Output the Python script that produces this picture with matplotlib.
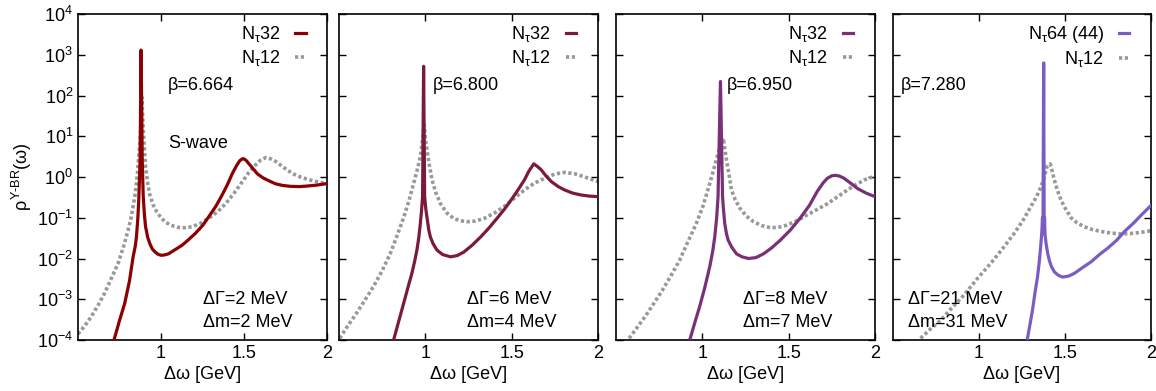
import numpy as np
import matplotlib
matplotlib.use("Agg")
import matplotlib.pyplot as plt
from matplotlib.ticker import LogLocator, FixedLocator, NullFormatter

plt.rcParams['font.family'] = ['Liberation Sans', 'DejaVu Sans']
plt.rcParams['mathtext.fontset'] = 'custom'
plt.rcParams['mathtext.rm'] = 'Liberation Sans'
plt.rcParams['mathtext.it'] = 'Liberation Sans'
plt.rcParams['mathtext.cal'] = 'Liberation Sans'

# ---- data ----
# panel 1, beta=6.664
p1_x32 = [0.717, 0.75, 0.781, 0.81, 0.832, 0.845, 0.852, 0.86, 0.866, 0.874, 0.880, 0.887, 0.893, 0.90,
          0.907, 0.92, 0.933, 0.948, 0.964, 0.982, 1.0, 1.02, 1.045, 1.08, 1.126, 1.166, 1.206, 1.25,
          1.287, 1.33, 1.368, 1.40, 1.429, 1.455, 1.474, 1.49, 1.50, 1.515, 1.53, 1.555, 1.58, 1.615,
          1.652, 1.69, 1.733, 1.78, 1.834, 1.88, 1.935, 2.0]
p1_y32 = [1e-4, 3e-4, 7.8e-4, 2.8e-3, 0.011, 0.02, 0.034, 0.09, 0.27, 2.6, 1300, 2.6, 0.33, 0.12,
          0.06, 0.033, 0.023, 0.017, 0.0145, 0.0127, 0.012, 0.0122, 0.013, 0.016, 0.021, 0.029, 0.041, 0.064,
          0.105, 0.19, 0.36, 0.65, 1.2, 1.9, 2.5, 2.8, 2.8, 2.5, 2.1, 1.6, 1.2, 0.95,
          0.8, 0.68, 0.62, 0.59, 0.58, 0.6, 0.63, 0.69]
p1_x12 = [0.5, 0.54, 0.579, 0.62, 0.66, 0.70, 0.741, 0.775, 0.802, 0.82, 0.832, 0.843, 0.852, 0.86,
          0.866, 0.872, 0.877, 0.881, 0.885, 0.889, 0.893, 0.9, 0.907, 0.92, 0.933, 0.952, 0.974, 1.0,
          1.024, 1.06, 1.105, 1.146, 1.186, 1.235, 1.287, 1.34, 1.389, 1.44, 1.49, 1.53, 1.571, 1.60,
          1.632, 1.66, 1.692, 1.74, 1.794, 1.845, 1.895, 1.95, 2.0]
p1_y12 = [1.4e-4, 2.2e-4, 3.7e-4, 7e-4, 1.4e-3, 3.2e-3, 7.5e-3, 0.02, 0.05, 0.1, 0.19, 0.35, 0.69, 1.5,
          3.2, 6.5, 11.7, 35, 91, 35, 14, 5, 1.8, 0.7, 0.36, 0.21, 0.14, 0.1,
          0.08, 0.065, 0.058, 0.057, 0.06, 0.072, 0.096, 0.14, 0.22, 0.4, 0.77, 1.3, 2.0, 2.6,
          3.0, 2.8, 2.4, 1.7, 1.2, 0.98, 0.85, 0.75, 0.68]

# panel 2, beta=6.800
p2_x32 = [0.819, 0.845, 0.874, 0.9, 0.922, 0.938, 0.951, 0.962, 0.971, 0.978, 0.984, 0.990, 0.996,
          1.003, 1.01, 1.02, 1.029, 1.045, 1.068, 1.1, 1.146, 1.185, 1.224, 1.27, 1.321, 1.37, 1.418,
          1.457, 1.496, 1.535, 1.574, 1.60, 1.628, 1.65, 1.671, 1.70, 1.73, 1.77, 1.807, 1.855, 1.905,
          1.95, 2.0]
p2_y32 = [1.1e-4, 2.8e-4, 7.8e-4, 2e-3, 4.3e-3, 8.5e-3, 0.016, 0.032, 0.072, 0.15, 0.33, 520, 0.33,
          0.16, 0.10, 0.05, 0.034, 0.023, 0.016, 0.0125, 0.011, 0.0118, 0.0145, 0.021, 0.034, 0.057, 0.10,
          0.16, 0.27, 0.47, 0.85, 1.4, 2.1, 1.8, 1.5, 1.05, 0.77, 0.58, 0.48, 0.4, 0.36,
          0.34, 0.33]
p2_x12 = [0.504, 0.55, 0.601, 0.65, 0.698, 0.75, 0.796, 0.835, 0.874, 0.905, 0.932, 0.955, 0.971,
          0.982, 0.990, 0.994, 0.998, 1.003, 1.01, 1.02, 1.039, 1.06, 1.088, 1.125, 1.165, 1.2, 1.243,
          1.29, 1.34, 1.4, 1.457, 1.515, 1.574, 1.63, 1.691, 1.75, 1.807, 1.865, 1.924, 1.96, 2.0]
p2_y12 = [1.1e-4, 2.2e-4, 4.5e-4, 9.5e-4, 2.0e-3, 5e-3, 0.013, 0.035, 0.10, 0.26, 0.69, 1.6, 3.2,
          7, 14, 19, 12, 7, 4.6, 2.3, 0.85, 0.42, 0.22, 0.13, 0.096, 0.085, 0.08,
          0.083, 0.096, 0.13, 0.19, 0.3, 0.48, 0.7, 0.93, 1.18, 1.3, 1.2, 1.0, 0.88, 0.77]

# panel 3, beta=6.950
p3_x32 = [0.93, 0.96, 0.984, 1.015, 1.043, 1.06, 1.072, 1.083, 1.091, 1.105, 1.117, 1.123, 1.13,
          1.14, 1.15, 1.17, 1.198, 1.23, 1.267, 1.31, 1.354, 1.40, 1.451, 1.51, 1.568, 1.62, 1.665,
          1.70, 1.724, 1.75, 1.772, 1.795, 1.821, 1.86, 1.899, 1.95, 2.0]
p3_y32 = [1.1e-4, 3e-4, 6.5e-4, 2e-3, 6.3e-3, 0.015, 0.034, 0.1, 0.33, 220, 0.33, 0.15, 0.072,
          0.04, 0.028, 0.019, 0.013, 0.011, 0.01, 0.0105, 0.013, 0.018, 0.028, 0.05, 0.10, 0.2, 0.44,
          0.72, 0.93, 1.07, 1.1, 1.05, 0.93, 0.7, 0.52, 0.4, 0.33]
p3_x12 = [0.576, 0.625, 0.673, 0.72, 0.77, 0.82, 0.868, 0.915, 0.965, 1.005, 1.043, 1.065, 1.086,
          1.10, 1.111, 1.121, 1.13, 1.14, 1.155, 1.169, 1.19, 1.218, 1.255, 1.296, 1.345, 1.393, 1.44,
          1.49, 1.55, 1.607, 1.665, 1.724, 1.78, 1.84, 1.89, 1.938, 2.0]
p3_y12 = [1.1e-4, 2.1e-4, 4e-4, 8e-4, 1.7e-3, 3.9e-3, 9e-3, 0.025, 0.072, 0.2, 0.69, 1.5, 3.2,
          5, 7, 9, 5, 2.6, 1.1, 0.48, 0.28, 0.17, 0.11, 0.08, 0.064, 0.057, 0.058,
          0.066, 0.085, 0.117, 0.16, 0.22, 0.32, 0.48, 0.65, 0.85, 1.05]

# panel 4, beta=7.280
p4_x64 = [1.282, 1.297, 1.311, 1.325, 1.34, 1.35, 1.36, 1.366, 1.369, 1.372, 1.376, 1.379, 1.381,
          1.384, 1.39, 1.40, 1.409, 1.42, 1.438, 1.46, 1.486, 1.52, 1.554, 1.6, 1.652, 1.70, 1.749,
          1.8, 1.846, 1.9, 1.944, 2.0]
p4_y64 = [1.1e-4, 2.5e-4, 5.4e-4, 1.4e-3, 3.5e-3, 8e-3, 0.023, 0.05, 0.1, 0.04, 630, 0.05, 0.1,
          0.04, 0.023, 0.013, 9e-3, 6.5e-3, 4.7e-3, 3.9e-3, 3.5e-3, 3.7e-3, 4.3e-3, 5.9e-3, 8.3e-3, 0.0125, 0.018,
          0.028, 0.046, 0.075, 0.117, 0.2]
p4_x12 = [0.66, 0.72, 0.776, 0.84, 0.912, 0.99, 1.068, 1.14, 1.204, 1.255, 1.302, 1.335, 1.36,
          1.38, 1.395, 1.414, 1.425, 1.438, 1.455, 1.477, 1.505, 1.535, 1.57, 1.613, 1.66, 1.71, 1.77,
          1.827, 1.88, 1.924, 1.96, 2.0]
p4_y12 = [1.1e-4, 1.9e-4, 3e-4, 6e-4, 1.26e-3, 3.2e-3, 7.6e-3, 0.018, 0.041, 0.085, 0.19, 0.33, 0.57,
          1.0, 1.8, 2.1, 1.4, 0.85, 0.48, 0.27, 0.16, 0.10, 0.075, 0.06, 0.051, 0.046, 0.042,
          0.04, 0.041, 0.043, 0.045, 0.048]

colors = ["#8b0000", "#7a1a3c", "#7a3079", "#7b5cc4"]
labels = [r"N$_{\mathrm{τ}}$32", r"N$_{\mathrm{τ}}$32", r"N$_{\mathrm{τ}}$32", r"N$_{\mathrm{τ}}$64 (44)"]
betas = ["β=6.664", "β=6.800", "β=6.950", "β=7.280"]
dgam = ["ΔΓ=2 MeV", "ΔΓ=6 MeV", "ΔΓ=8 MeV", "ΔΓ=21 MeV"]
dm = ["Δm=2 MeV", "Δm=4 MeV", "Δm=7 MeV", "Δm=31 MeV"]

main = [(p1_x32, p1_y32), (p2_x32, p2_y32), (p3_x32, p3_y32), (p4_x64, p4_y64)]
ref = [(p1_x12, p1_y12), (p2_x12, p2_y12), (p3_x12, p3_y12), (p4_x12, p4_y12)]

W, H = 1156, 391
fig = plt.figure(figsize=(W / 100, H / 100), dpi=100)
lefts = [78, 339, 616, 893]
widths = [249, 259, 259, 258]
top, bot = 14, 340
beta_fx = [0.361, 0.363, 0.429, 0.031]
dg_fx = [0.502, 0.494, 0.49, 0.058]
FS = 13

for i in range(4):
    ax = fig.add_axes([lefts[i] / W, 1 - bot / H, widths[i] / W, (bot - top) / H])
    ax.set_yscale("log")
    ax.set_xlim(0.5, 2)
    ax.set_ylim(1e-4, 1e4)
    ax.plot(*main[i], color=colors[i], lw=2.3, label=labels[i], zorder=3)
    ax.plot(*ref[i], color="#999999", lw=2.6, ls=(0, (0.9, 0.7)), label=r"N$_{\mathrm{τ}}$12", zorder=2)
    ax.xaxis.set_major_locator(FixedLocator([1, 1.5, 2]))
    ax.set_xticklabels(["1", "1.5", "2"])
    ax.yaxis.set_major_locator(LogLocator(base=10, numticks=20))
    ax.yaxis.set_minor_locator(FixedLocator([]))
    ax.tick_params(direction="in", top=True, right=True, length=5, width=1, labelsize=FS)
    if i > 0:
        ax.yaxis.set_major_formatter(NullFormatter())
    for s in ax.spines.values():
        s.set_linewidth(1.2)
    ax.set_xlabel("Δω [GeV]", fontsize=FS, labelpad=3)
    ax.text(beta_fx[i], 0.782, betas[i], transform=ax.transAxes, fontsize=FS, va="center")
    if i == 0:
        ax.text(beta_fx[i], 0.604, "S-wave", transform=ax.transAxes, fontsize=FS, va="center")
        ax.set_ylabel(r"$\rho^{\Upsilon\mathrm{\text{-}BR}}(\omega)$", fontsize=FS, labelpad=2)
    ax.text(dg_fx[i], 0.123, dgam[i], transform=ax.transAxes, fontsize=FS, va="center")
    ax.text(dg_fx[i], 0.055, dm[i], transform=ax.transAxes, fontsize=FS, va="center")
    ax.legend(loc="upper right", frameon=False, markerfirst=False, fontsize=FS,
              handlelength=0.6, handletextpad=0.8, borderaxespad=0.15, labelspacing=0.25,
              bbox_to_anchor=(0.955, 1.0))

fig.savefig("out.png", dpi=100)
